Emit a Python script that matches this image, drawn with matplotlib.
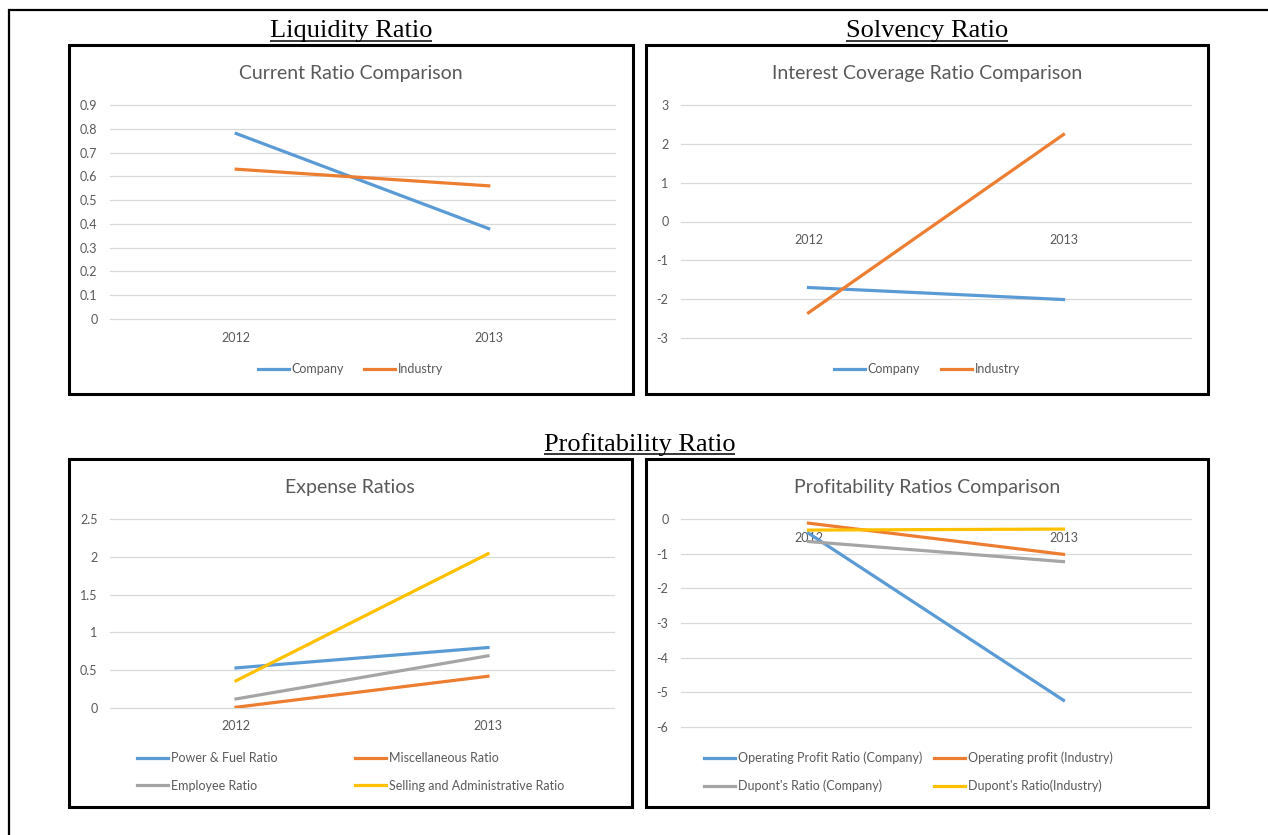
import matplotlib
matplotlib.use("Agg")
import matplotlib.pyplot as plt
from matplotlib.lines import Line2D
from matplotlib.legend import Legend
from matplotlib.patches import Rectangle
from matplotlib.ticker import FuncFormatter

W, H = 1268, 835

years = ["2012", "2013"]

# liquidity
current_company = [0.78, 0.38]
current_industry = [0.63, 0.56]

# solvency
icr_company = [-1.70, -2.01]
icr_industry = [-2.35, 2.24]

# expense ratios
power_fuel = [0.53, 0.80]
miscellaneous = [0.01, 0.42]
employee = [0.12, 0.69]
selling_admin = [0.36, 2.04]

# profitability
op_profit_company = [-0.41, -5.23]
op_profit_industry = [-0.12, -1.02]
dupont_company = [-0.65, -1.23]
dupont_industry = [-0.32, -0.29]

BLUE, ORANGE, GREY, GOLD = "#5B9BD5", "#ED7D31", "#A5A5A5", "#FFC000"
TXT = "#595959"
GRID = "#D9D9D9"
LW = 2.3

plt.rcParams["font.family"] = ["Lato", "DejaVu Sans"]

fig = plt.figure(figsize=(W / 100, H / 100), dpi=100)
renderer = fig.canvas.get_renderer()


def frac(x, y):
    # pixel position (from top-left) -> figure fraction
    return x / W, 1 - y / H


def fig_line(xs, ys, lw):
    fig.add_artist(Line2D([x / W for x in xs], [1 - y / H for y in ys],
                          lw=lw, color="black", transform=fig.transFigure,
                          solid_capstyle="butt"))


def heading(text, cx, base):
    t = fig.text(*frac(cx, base), text, ha="center", va="baseline",
                 fontsize=19, family=["Liberation Serif", "DejaVu Serif"])
    bb = t.get_window_extent(renderer=renderer)
    fig_line([bb.x0, bb.x1], [base + 3.5, base + 3.5], 1.1)


def chart_box(x0, y0, x1, y1):
    fig.add_artist(Rectangle(frac(x0, y1), (x1 - x0) / W, (y1 - y0) / H,
                             transform=fig.transFigure, fill=False,
                             lw=2.2, edgecolor="black"))


def make_axes(x0, y0, x1, y1, ylim, yticks, title, tx, ty):
    l, b = frac(x0, y1)
    ax = fig.add_axes([l, b, (x1 - x0) / W, (y1 - y0) / H])
    ax.set_ylim(*ylim)
    ax.set_yticks(yticks)
    ax.yaxis.set_major_formatter(FuncFormatter(lambda v, p: f"{v:g}"))
    ax.grid(axis="y", color=GRID, lw=0.9)
    for g in ax.get_ygridlines():
        g.set_clip_on(False)
    ax.set_axisbelow(True)
    for s in ax.spines.values():
        s.set_color("none")
    ax.spines["bottom"].set_position(("data", 0))
    ax.tick_params(length=0, labelsize=9, labelcolor=TXT)
    ax.tick_params(axis="y", pad=9)
    ax.tick_params(axis="x", pad=9)
    ax.patch.set_alpha(0)
    fig.text(*frac(tx, ty), title, ha="center", va="center",
             fontsize=14, color=TXT)
    return ax


def legend_col(ax, lines, x, y):
    leg = Legend(ax, lines, [ln.get_label() for ln in lines],
                 loc="center left", bbox_to_anchor=frac(x, y),
                 bbox_transform=fig.transFigure, frameon=False,
                 borderpad=0, borderaxespad=0, handlelength=2.5,
                 handletextpad=0.2, labelspacing=1.2, fontsize=9,
                 labelcolor=TXT)
    ax.add_artist(leg)


# page frame
fig_line([8, W], [9.5, 9.5], 1.6)
fig_line([8.5, 8.5], [9, H], 1.6)

heading("Liquidity Ratio", 351, 37)
heading("Solvency Ratio", 927, 37)
heading("Profitability Ratio", 639.5, 451)

for rect in [(69, 45, 633, 394), (646, 45, 1208, 394),
             (69, 459, 632, 807), (646, 459, 1208, 807)]:
    chart_box(*rect)

# current ratio
ax1 = make_axes(110, 105, 615, 319, (0, 0.9),
                [i / 10 for i in range(10)],
                "Current Ratio Comparison", 351, 73)
c1, = ax1.plot(years, current_company, color=BLUE, lw=LW, label="Company")
i1, = ax1.plot(years, current_industry, color=ORANGE, lw=LW, label="Industry")
ax1.set_xlim(-0.5, 1.5)
legend_col(ax1, [c1], 258, 369)
legend_col(ax1, [i1], 364, 369)

# interest coverage
ax2 = make_axes(681, 105, 1191, 338, (-3, 3), range(-3, 4),
                "Interest Coverage Ratio Comparison", 927, 73)
c2, = ax2.plot(years, icr_company, color=BLUE, lw=LW, label="Company")
i2, = ax2.plot(years, icr_industry, color=ORANGE, lw=LW, label="Industry")
ax2.set_xlim(-0.5, 1.5)
legend_col(ax2, [c2], 834, 369)
legend_col(ax2, [i2], 941, 369)

# expense ratios
ax3 = make_axes(110, 519, 614, 708, (0, 2.5), [0, 0.5, 1, 1.5, 2, 2.5],
                "Expense Ratios", 350, 487)
e1, = ax3.plot(years, power_fuel, color=BLUE, lw=LW, label="Power & Fuel Ratio")
e2, = ax3.plot(years, miscellaneous, color=ORANGE, lw=LW, label="Miscellaneous Ratio")
e3, = ax3.plot(years, employee, color=GREY, lw=LW, label="Employee Ratio")
e4, = ax3.plot(years, selling_admin, color=GOLD, lw=LW,
               label="Selling and Administrative Ratio")
ax3.set_xlim(-0.5, 1.5)
legend_col(ax3, [e1, e3], 137, 772)
legend_col(ax3, [e2, e4], 355, 772)

# profitability ratios
ax4 = make_axes(681, 519, 1191, 727, (-6, 0), range(-6, 1),
                "Profitability Ratios Comparison", 927, 487)
p1, = ax4.plot(years, op_profit_company, color=BLUE, lw=LW,
               label="Operating Profit Ratio (Company)")
p2, = ax4.plot(years, op_profit_industry, color=ORANGE, lw=LW,
               label="Operating profit (Industry)")
p3, = ax4.plot(years, dupont_company, color=GREY, lw=LW,
               label="Dupont's Ratio (Company)")
p4, = ax4.plot(years, dupont_industry, color=GOLD, lw=LW,
               label="Dupont's Ratio(Industry)")
ax4.set_xlim(-0.5, 1.5)
legend_col(ax4, [p1, p3], 704, 772)
legend_col(ax4, [p2, p4], 934, 772)

fig.savefig("out.png", dpi=100, facecolor="white")
